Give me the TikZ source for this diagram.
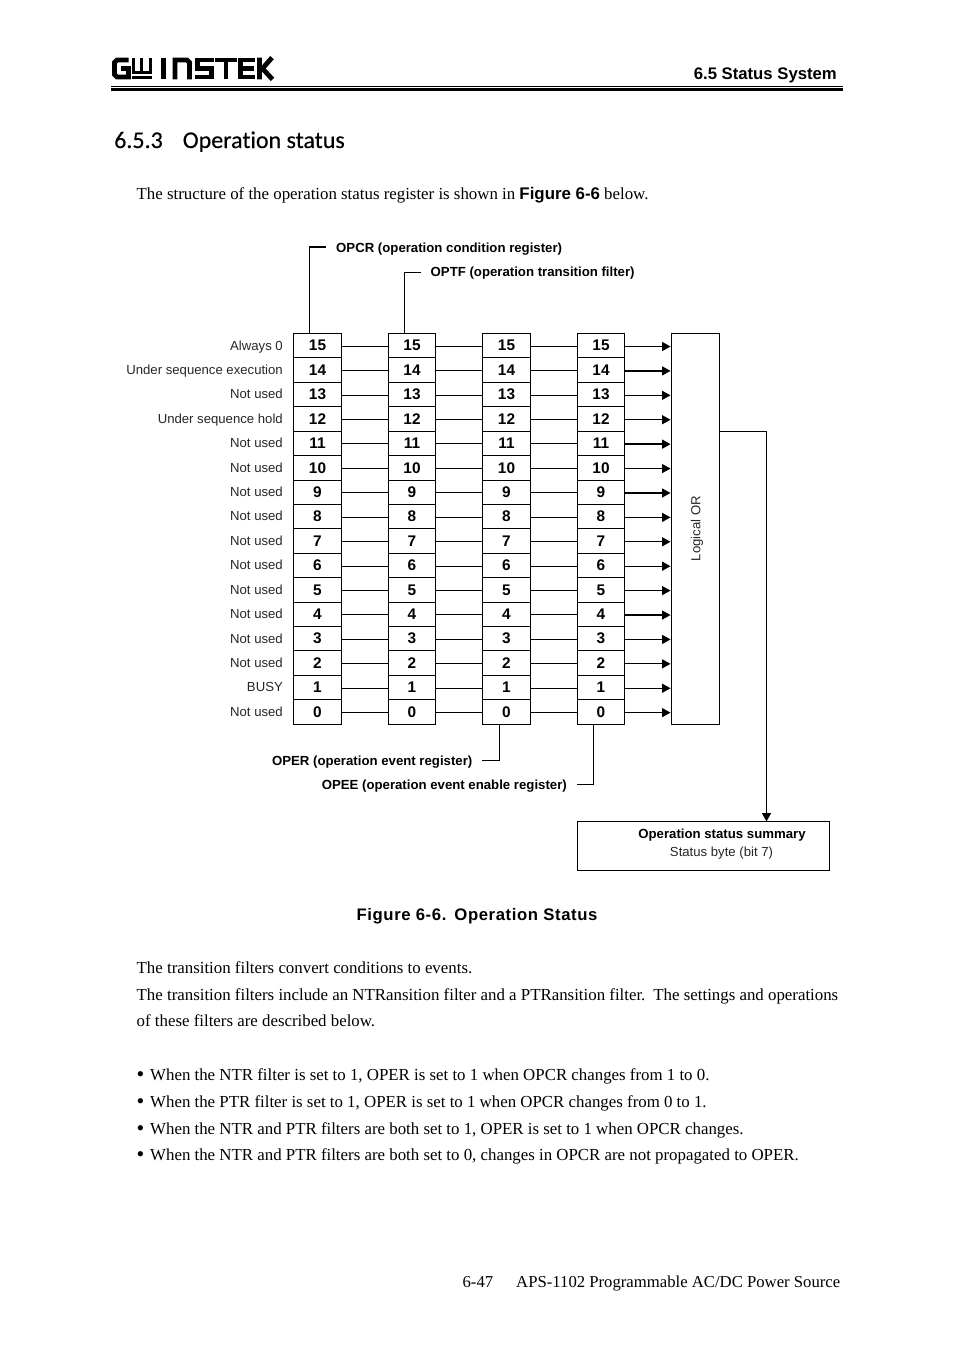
\documentclass[tikz,border=0pt]{standalone}
\usepackage{fontspec}
\setmainfont{Liberation Serif}
\newfontfamily\arialf{Liberation Sans}
\newfontfamily\headf[Ligatures=NoCommon,FakeBold=0.25]{Carlito}
\usetikzlibrary{arrows.meta}
\newcommand{\bigbul}{\raisebox{-1pt}{\fontsize{22}{22}\selectfont•}\hspace{5.8pt}}
\tikzset{
 x=1pt,y=-1pt,
 txt/.style={inner sep=0pt,anchor=base west,font=\fontsize{16.85}{18}\selectfont},
 lab/.style={inner sep=0pt,anchor=base east,font=\arialf\fontsize{13.15}{15}\selectfont,text=black!85},
 blab/.style={inner sep=0pt,anchor=base west,font=\arialf\bfseries\fontsize{13.2}{15}\selectfont},
 cell/.style={draw,line width=0.9pt,minimum width=47.5pt,minimum height=24.4pt,inner sep=0pt,font=\arialf\bfseries\fontsize{15.4}{16}\selectfont,anchor=center},
 wire/.style={line width=0.9pt},
 arr/.style={line width=1.3pt,-{Triangle[length=8.5pt,width=9pt]}},
 logo/.style={line width=4.8pt,line cap=butt,line join=miter}
}
\begin{document}
\begin{tikzpicture}
\useasboundingbox (0,0) rectangle (954,1350);
% logo
\draw[logo] (128.5,60) -- (117,60) -- (114.5,62.5) -- (114.5,74.5) -- (117,77) -- (128.5,77) -- (128.5,68.5) -- (121,68.5);
\draw[line width=3pt] (133.5,58) -- (133.5,72.5) -- (150,72.5) (141.7,58) -- (141.7,72.5) (150,58) -- (150,74);
\draw[line width=3pt] (132,77.7) -- (151.5,77.7);
\draw[logo] (163.5,57.6) -- (163.5,79.4);
\draw[logo] (175,79.4) -- (175,60) -- (187,60) -- (189.5,62.5) -- (189.5,79.4);
\draw[logo] (214,60) -- (197.5,60) -- (197.5,68.5) -- (211.5,68.5) -- (211.5,77) -- (195,77);
\draw[logo] (215,60) -- (237,60) (226,60) -- (226,79.4);
\draw[logo] (255,60) -- (240.5,60) -- (240.5,77) -- (255,77) (240.5,68.5) -- (254,68.5);
\draw[logo] (259.5,57.6) -- (259.5,79.4) (272,57.6) -- (262.5,68.5) -- (272.5,79.4);
\draw[line width=1pt] (111,86) -- (843,86);
\draw[line width=2.6pt] (111,89.3) -- (843,89.3);
\node[inner sep=0pt,anchor=base east,font=\arialf\bfseries\fontsize{16.7}{18}\selectfont] (hdr) at (837,79) {6.5 Status System};
\node[inner sep=0pt,anchor=base west,font=\headf\fontsize{24}{26}\selectfont] (sec) at (114,148) {6.5.3\hspace{20pt}Operation status};
\node[txt] (t1) at (136.5,199) {The structure of the operation status register is shown in {\arialf\bfseries Figure 6-6} below.};
% cells
\foreach \c/\x in {a/317.5,b/412,c/506.5,d/601}{
 \foreach \n in {0,...,15}{
  \pgfmathsetmacro\yy{333.5+24.41*(15-\n)+12.2}
  \node[cell] (\c\n) at (\x,\yy) {\n};
 }
}
\foreach \n in {0,...,15}{
 \draw[wire] ([yshift=-0.6pt]a\n.east) -- ([yshift=-0.6pt]b\n.west);
 \draw[wire] ([yshift=-0.6pt]b\n.east) -- ([yshift=-0.6pt]c\n.west);
 \draw[wire] ([yshift=-0.6pt]c\n.east) -- ([yshift=-0.6pt]d\n.west);
}
% left labels
\foreach \n/\s in {15/Always 0,14/Under sequence execution,13/Not used,12/Under sequence hold,11/Not used,10/Not used,9/Not used,8/Not used,7/Not used,6/Not used,5/Not used,4/Not used,3/Not used,2/Not used,1/BUSY,0/Not used}{
 \pgfmathsetmacro\yy{333.5+24.41*(15-\n)+16.6}
 \node[lab] (l\n) at (283,\yy) {\s};
}
% OR box
\node[draw,line width=0.9pt,minimum width=48.5pt,minimum height=390.5pt,inner sep=0pt] (or) at (695.25,528.75) {};
\node[rotate=90,inner sep=0pt,font=\arialf\fontsize{13.15}{15}\selectfont,text=black!85] (ort) at (697,528.5) {Logical OR};
\foreach \n in {0,...,15}{
 \draw[arr] ([yshift=-0.8pt]d\n.east) -- ([yshift=-0.8pt]d\n.east -| or.west);
}
% summary
\node[draw,line width=0.9pt,minimum width=252pt,minimum height=48.5pt,inner sep=0pt] (sum) at (703.5,845.75) {};
\node[inner sep=0pt,anchor=base,font=\arialf\bfseries\fontsize{13.2}{15}\selectfont] (s1) at (722,838) {Operation status summary};
\node[inner sep=0pt,anchor=base,font=\arialf\fontsize{13.15}{15}\selectfont,text=black!85] (s2) at (721.5,856) {Status byte (bit 7)};
\coordinate (orout) at (or.east |- 0,431.5);
\coordinate (sumin) at (766.5,821.5);
\draw[arr] (orout) -- (sumin |- orout) -- (sumin);
% register labels
\node[blab] (opcr) at (336,252) {OPCR (operation condition register)};
\node[blab] (optf) at (430.5,276) {OPTF (operation transition filter)};
\node[blab,anchor=base east] (oper) at (472.5,765) {OPER (operation event register)};
\node[blab,anchor=base east] (opee) at (567,789) {OPEE (operation event enable register)};
\coordinate (opcrE) at (326,247);
\coordinate (optfE) at (420.5,272);
\coordinate (operE) at (482,760);
\coordinate (opeeE) at (577,784.5);
\draw[line width=1.1pt] (opcrE) -- (309.5,247) -- (309.5,333.5);
\draw[wire] (optfE) -- (404.5,272) -- (404.5,333.5);
\draw[wire] (operE) -- (499,760) -- (499,724);
\draw[wire] (opeeE) -- (593.5,784.5) -- (593.5,724);
% caption
\node[inner sep=0pt,anchor=base,font=\arialf\bfseries\fontsize{16.7}{18}\selectfont\addfontfeature{LetterSpace=3.6}] (cap) at (477,920) {Figure 6-6.\hspace{8pt}Operation Status};
% body
\node[txt] (t2) at (136.5,973) {The transition filters convert conditions to events.};
\node[txt] (t3) at (136.5,1000) {The transition filters include an NTRansition filter and a PTRansition filter.\hspace{8pt}The settings and operations};
\node[txt] (t4) at (136.5,1026) {of these filters are described below.};
\node[txt] (b1) at (136.5,1080) {\bigbul When the NTR filter is set to 1, OPER is set to 1 when OPCR changes from 1 to 0.};
\node[txt] (b2) at (136.5,1107) {\bigbul When the PTR filter is set to 1, OPER is set to 1 when OPCR changes from 0 to 1.};
\node[txt] (b3) at (136.5,1134) {\bigbul When the NTR and PTR filters are both set to 1, OPER is set to 1 when OPCR changes.};
\node[txt] (b4) at (136.5,1160) {\bigbul When the NTR and PTR filters are both set to 0, changes in OPCR are not propagated to OPER.};
\node[txt,anchor=base east,font=\fontsize{16.7}{18}\selectfont] (foot) at (840.5,1287) {6-47\hspace{23pt}APS-1102 Programmable AC/DC Power Source};
\end{tikzpicture}
\end{document}
